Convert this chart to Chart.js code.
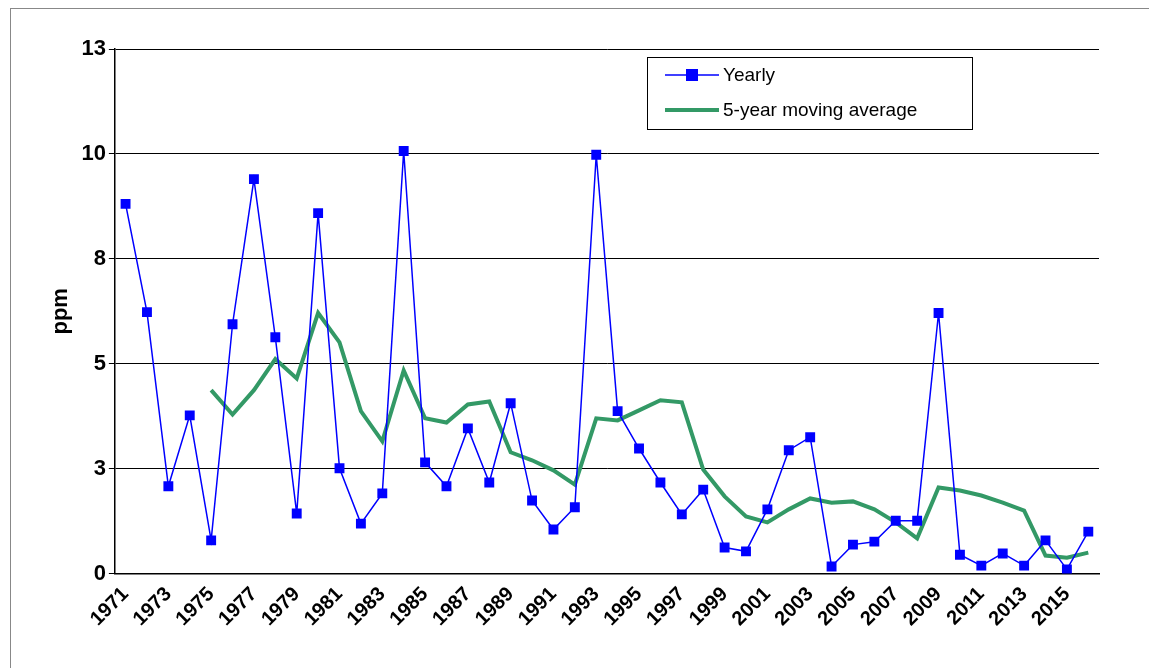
<!DOCTYPE html>
<html>
<head>
<script src="https://cdn.jsdelivr.net/npm/chart.js@4"></script>
<style>
  html, body { margin: 0; padding: 0; background: #fff; }
  #wrap { position: absolute; left: 10px; top: 8px; width: 1160px; height: 680px; border: 1px solid #888; box-sizing: border-box; }
  #box { position: absolute; left: 0; top: 0; width: 1149px; height: 668px; }
</style>
</head>
<body>
<div id="wrap"></div>
<div id="box"><canvas id="chart"></canvas></div>
<script>
// data
const years = [];
for (let y = 1971; y <= 2016; y++) years.push(String(y));

const yearly = [8.81, 6.23, 2.08, 3.77, 0.79, 5.94, 9.40, 5.63, 1.43, 8.59,
    2.51, 1.19, 1.91, 10.07, 2.65, 2.08, 3.46, 2.17, 4.06, 1.74,
    1.05, 1.58, 9.98, 3.87, 2.98, 2.17, 1.41, 2.00, 0.62, 0.53,
    1.53, 2.94, 3.25, 0.17, 0.69, 0.76, 1.26, 1.26, 6.21, 0.45,
    0.19, 0.48, 0.19, 0.79, 0.10, 1.00];

const movingAvg = [null, null, null, null, 4.37, 3.79, 4.37, 5.11, 4.65, 6.21,
    5.51, 3.87, 3.15, 4.84, 3.70, 3.60, 4.03, 4.10, 2.89, 2.70,
    2.46, 2.12, 3.70, 3.65, 3.89, 4.13, 4.08, 2.48, 1.84, 1.36,
    1.22, 1.53, 1.79, 1.69, 1.72, 1.53, 1.22, 0.84, 2.05, 1.98,
    1.86, 1.69, 1.50, 0.43, 0.38, 0.50];

const yTicks = [0, 2.5, 5, 7.5, 10, 12.5];

// legend box drawn inside the plot area
const insideLegend = {
    id: 'insideLegend',
    afterDraw(chart) {
        const ctx = chart.ctx;
        const x = 647, y = 57, w = 325, h = 72;
        ctx.save();
        ctx.fillStyle = '#fff';
        ctx.fillRect(x, y, w, h);
        ctx.strokeStyle = '#000';
        ctx.lineWidth = 1;
        ctx.strokeRect(x + 0.5, y + 0.5, w, h);
        ctx.font = '19px "Liberation Sans", Arial, sans-serif';
        ctx.textBaseline = 'middle';
        ctx.fillStyle = '#000';
        ctx.strokeStyle = '#0000ff';
        ctx.lineWidth = 1.5;
        ctx.beginPath(); ctx.moveTo(x + 18, y + 18); ctx.lineTo(x + 72, y + 18); ctx.stroke();
        ctx.fillStyle = '#0000ff';
        ctx.fillRect(x + 39, y + 12, 12, 12);
        ctx.fillStyle = '#000';
        ctx.fillText(chart.data.datasets[0].label, x + 76, y + 19);
        ctx.strokeStyle = '#339966';
        ctx.lineWidth = 4;
        ctx.beginPath(); ctx.moveTo(x + 18, y + 53); ctx.lineTo(x + 72, y + 53); ctx.stroke();
        ctx.fillText(chart.data.datasets[1].label, x + 76, y + 54);
        ctx.restore();
    }
};

new Chart(document.getElementById('chart'), {
    type: 'line',
    data: {
        labels: years,
        datasets: [{
            label: 'Yearly',
            data: yearly,
            borderColor: '#0000ff',
            backgroundColor: '#0000ff',
            borderWidth: 1.5,
            pointStyle: 'rect',
            pointRadius: 7,
            pointBorderWidth: 0,
            tension: 0
        }, {
            label: '5-year moving average',
            data: movingAvg,
            borderColor: '#339966',
            borderWidth: 4,
            pointRadius: 0,
            tension: 0
        }]
    },
    options: {
        responsive: true,
        maintainAspectRatio: false,
        animation: false,
        layout: { padding: { left: 44, right: 50, top: 49, bottom: 34 } },
        plugins: { legend: { display: false }, tooltip: { enabled: false } },
        scales: {
            x: {
                offset: true,
                grid: { display: false, drawTicks: true, tickLength: 6, color: '#000' },
                border: { color: '#000', width: 1.5 },
                ticks: {
                    autoSkip: false,
                    maxRotation: 45, minRotation: 45,
                    color: '#000',
                    font: { family: '"Liberation Sans", Arial', size: 20, weight: 'bold' },
                    callback: function (v, i) { return i % 2 === 0 ? years[i] : ''; }
                }
            },
            y: {
                min: 0, max: 12.5,
                afterBuildTicks: function (s) { s.ticks = yTicks.map(v => ({ value: v })); },
                grid: { color: '#000', lineWidth: 1, tickLength: 6 },
                border: { color: '#000', width: 1.5 },
                title: {
                    display: true, text: 'ppm', color: '#000',
                    font: { family: '"Liberation Sans", Arial', size: 22, weight: 'bold' }
                },
                ticks: {
                    color: '#000',
                    font: { family: '"Liberation Sans", Arial', size: 22, weight: 'bold' },
                    callback: v => Math.round(v)
                }
            }
        }
    },
    plugins: [insideLegend]
});
</script>
</body>
</html>
